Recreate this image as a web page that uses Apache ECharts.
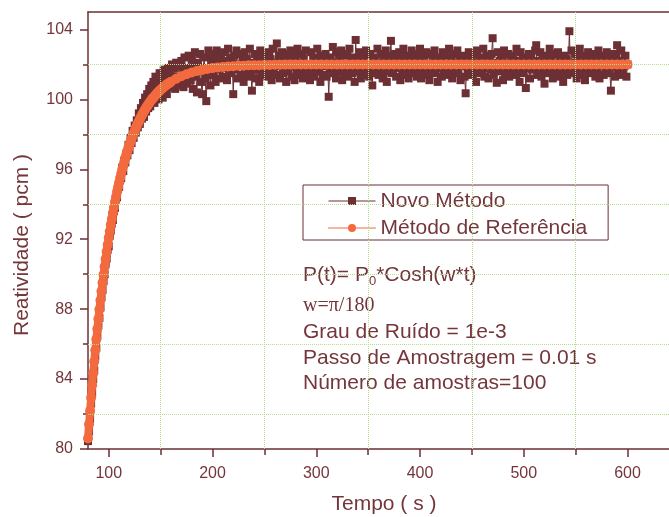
<!DOCTYPE html>
<html>
<head>
<meta charset="utf-8">
<script src="https://cdn.jsdelivr.net/npm/echarts@6/dist/echarts.min.js"></script>
<style>
html,body{margin:0;padding:0;background:#fff;}
#chart{width:669px;height:517px;}
</style>
</head>
<body>
<div id="chart"></div>
<script>
// ---- data ----
// Novo Método: one sample per second from t = 80 s to t = 600 s
const novoStart = 80;
const novoStep = 1;
const novoValues = [
  80.45, 81.0, 81.7, 82.6, 83.2, 84.0, 84.5, 85.3, 85.8, 86.5,
  87.1, 87.5, 88.1, 88.7, 89.1, 89.6, 90.0, 90.6, 90.9, 91.4,
  91.6, 92.2, 92.5, 92.9, 93.1, 93.6, 93.8, 94.3, 94.4, 94.9,
  95.0, 95.4, 95.5, 96.1, 95.9, 96.5, 96.4, 96.9, 96.8, 97.4,
  97.1, 97.8, 97.5, 98.2, 97.8, 98.5, 98.1, 98.8, 98.4, 99.2,
  98.6, 99.5, 98.9, 99.8, 99.0, 100.1, 99.3, 100.3, 99.5, 100.6,
  99.6, 100.8, 99.9, 101.0, 99.8, 101.3, 100.2, 100.9, 100.0, 101.5,
  100.4, 101.2, 100.1, 101.7, 100.6, 101.4, 100.3, 101.8, 100.7, 101.5,
  100.9, 102.0, 101.1, 101.8, 100.6, 102.1, 101.3, 100.8, 101.9, 101.0,
  102.2, 101.5, 100.7, 102.4, 101.2, 101.8, 100.9, 102.5, 101.6, 101.1,
  102.3, 100.6, 101.9, 102.7, 101.3, 100.4, 102.1, 101.7, 102.6, 101.0,
  100.3, 101.8, 102.4, 101.2, 99.9, 101.6, 102.8, 101.4, 100.8, 102.2,
  102.6, 101.4, 102.1, 101.0, 102.8, 101.7, 102.3, 101.2, 102.5, 101.9,
  101.3, 102.7, 101.8, 102.2, 101.1, 102.9, 101.6, 102.4, 101.5, 102.0,
  100.3, 102.5, 101.7, 102.8, 101.2, 102.0, 101.9, 102.6, 101.4, 102.2,
  101.0, 102.7, 101.6, 102.3, 101.8, 101.3, 102.9, 101.5, 100.5, 102.1,
  101.7, 102.6, 101.2, 102.4, 101.9, 101.0, 102.8, 101.5, 102.2, 101.4,
  102.5, 101.8, 102.0, 101.3, 102.7, 101.6, 102.3, 101.1, 102.9, 101.7,
  102.1, 101.4, 103.2, 101.9, 102.5, 101.2, 102.0, 102.7, 101.5, 102.3,
  101.8, 101.0, 102.6, 101.6, 102.2, 102.8, 101.3, 102.4, 101.9, 101.1,
  102.5, 101.7, 102.9, 101.4, 102.1, 101.8, 102.6, 101.2, 102.3, 101.6,
  102.8, 101.5, 102.0, 101.9, 101.1, 102.7, 101.7, 102.4, 101.3, 102.2,
  101.6, 102.9, 101.8, 102.3, 101.0, 102.5, 101.4, 102.1, 101.9, 102.6,
  101.3, 102.2, 100.15, 101.7, 102.4, 101.5, 103.0, 101.8, 102.1, 101.2,
  102.7, 101.6, 102.3, 101.9, 102.8, 101.1, 102.5, 101.4, 102.0, 101.7,
  102.6, 101.3, 102.9, 101.8, 102.2, 101.5, 102.4, 101.0, 103.4, 101.9,
  102.3, 101.6, 102.7, 101.2, 102.1, 101.8, 102.5, 101.4, 102.8, 101.7,
  102.0, 101.3, 102.6, 101.9, 100.8, 102.4, 101.5, 102.2, 101.7, 102.9,
  101.4, 102.1, 101.8, 102.6, 101.2, 102.3, 101.6, 102.8, 101.0, 102.5,
  101.7, 102.2, 103.35, 101.5, 102.0, 101.9, 102.6, 101.3, 102.4, 101.8,
  102.7, 101.1, 102.3, 101.6, 102.9, 101.4, 102.1, 101.8, 102.5, 101.2,
  102.0, 101.7, 102.8, 101.5, 102.2, 101.9, 102.6, 101.3, 102.4, 101.6,
  102.9, 101.2, 102.1, 101.8, 102.5, 101.4, 102.7, 101.7, 102.0, 101.1,
  102.6, 101.9, 102.3, 101.5, 102.8, 101.6, 102.2, 101.0, 102.4, 101.8,
  102.1, 101.3, 102.7, 101.7, 102.5, 101.9, 102.0, 101.4, 102.9, 101.6,
  102.3, 101.2, 102.6, 101.8, 102.1, 101.5, 102.8, 101.7, 102.4, 101.1,
  102.0, 101.9, 102.5, 101.3, 100.35, 102.2, 101.6, 102.7, 101.8, 102.3,
  101.4, 102.6, 101.7, 102.1, 101.0, 102.8, 101.5, 102.4, 101.9, 102.2,
  101.6, 102.9, 101.3, 102.0, 101.8, 102.5, 101.2, 102.3, 101.7, 102.6,
  103.5, 101.4, 102.1, 101.9, 100.95, 102.7, 101.6, 102.2, 101.8, 102.4,
  101.1, 102.8, 101.5, 102.0, 101.9, 102.6, 101.3, 102.3, 101.7, 102.5,
  101.8, 102.1, 101.4, 102.9, 101.6, 102.2, 101.0, 102.7, 101.9, 102.4,
  101.5, 102.3, 100.65, 102.0, 101.8, 102.6, 101.2, 102.5, 101.7, 102.1,
  101.9, 102.8, 103.1, 101.4, 102.2, 101.6, 102.7, 101.3, 102.4, 101.8,
  100.9, 102.5, 101.7, 102.1, 101.5, 102.9, 101.8, 102.3, 101.2, 102.6,
  101.6, 102.0, 101.9, 102.7, 101.3, 102.4, 101.7, 102.2, 101.0, 102.5,
  101.8, 102.3, 101.4, 102.0, 103.9, 101.6, 102.8, 101.9, 102.1, 101.5,
  102.6, 101.2, 102.4, 101.7, 102.9, 101.4, 102.2, 101.8, 102.5, 101.1,
  102.0, 101.9, 102.7, 101.5, 102.3, 101.6, 102.1, 101.8, 102.6, 101.3,
  102.4, 101.7, 102.8, 101.2, 102.0, 101.9, 102.5, 101.4, 102.2, 101.6,
  102.7, 101.8, 102.3, 101.5, 100.5, 102.1, 101.9, 102.6, 101.3, 102.4,
  103.1, 101.7, 102.2, 101.4, 102.8, 101.6, 102.0, 101.9, 102.5, 101.3,
  102.0
];

// Método de Referência: every 1 s from 80 to 160 s, then every 5 s up to 600 s
const refSegments = [[80, 160, 1], [165, 600, 5]];
const refValues = [
  80.60, 81.41, 82.18, 82.93, 83.65, 84.34, 85.01, 85.65, 86.27, 86.86,
  87.43, 87.98, 88.51, 89.02, 89.51, 89.98, 90.43, 90.87, 91.29, 91.69,
  92.08, 92.46, 92.82, 93.16, 93.50, 93.82, 94.13, 94.42, 94.71, 94.99,
  95.25, 95.50, 95.75, 95.99, 96.21, 96.43, 96.64, 96.84, 97.04, 97.23,
  97.41, 97.58, 97.75, 97.91, 98.06, 98.21, 98.35, 98.49, 98.62, 98.75,
  98.87, 98.99, 99.10, 99.21, 99.32, 99.42, 99.52, 99.61, 99.70, 99.79,
  99.87, 99.95, 100.03, 100.10, 100.17, 100.24, 100.31, 100.37, 100.43, 100.49,
  100.55, 100.60, 100.66, 100.71, 100.76, 100.80, 100.85, 100.89, 100.93, 100.97,
  101.01,
  101.18, 101.33, 101.44, 101.54, 101.62, 101.69, 101.74, 101.79, 101.83, 101.86,
  101.88, 101.90, 101.92, 101.93, 101.95, 101.96, 101.96, 101.97, 101.97, 101.98,
  101.98, 101.99, 101.99,
  102.0, 102.0, 102.0, 102.0, 102.0, 102.0, 102.0, 102.0, 102.0, 102.0,
  102.0, 102.0, 102.0, 102.0, 102.0, 102.0, 102.0, 102.0, 102.0, 102.0,
  102.0, 102.0, 102.0, 102.0, 102.0, 102.0, 102.0, 102.0, 102.0, 102.0,
  102.0, 102.0, 102.0, 102.0, 102.0, 102.0, 102.0, 102.0, 102.0, 102.0,
  102.0, 102.0, 102.0, 102.0, 102.0, 102.0, 102.0, 102.0, 102.0, 102.0,
  102.0, 102.0, 102.0, 102.0, 102.0, 102.0, 102.0, 102.0, 102.0, 102.0,
  102.0, 102.0, 102.0, 102.0, 102.0
];

const xMajorTicks = [100, 200, 300, 400, 500, 600];
const xMinorTicks = [150, 250, 350, 450, 550];
const yMajorTicks = [80, 84, 88, 92, 96, 100, 104];
const yMinorTicks = [82, 86, 90, 94, 98, 102];

const seriesNames = ['Novo Método', 'Método de Referência'];
const xTitle = 'Tempo ( s )';
const yTitle = 'Reatividade ( pcm )';
const notes = ['w=π/180', 'Grau de Ruído = 1e-3', 'Passo de Amostragem = 0.01 s', 'Número de amostras=100'];

// ---- build series data ----
const novoData = novoValues.map((v, i) => [novoStart + i * novoStep, v]);
const refTimes = [];
refSegments.forEach(([a, b, s]) => { for (let t = a; t <= b; t += s) refTimes.push(t); });
const refData = refValues.map((v, i) => [refTimes[i], v]);

const maroon = '#6b2f34';
const textCol = '#74363b';
const orange = '#f26a3e';
const gridGreen = '#b6dc8c';
const font = '"Liberation Sans", Arial, sans-serif';

const chart = echarts.init(document.getElementById('chart'), null, {renderer: 'canvas'});

const commonX = {type: 'value', min: 80, max: 640, gridIndex: 0, splitLine: {show: false}};
const commonY = {type: 'value', min: 80, max: 105, gridIndex: 0, splitLine: {show: false}};

chart.setOption({
  animation: false,
  backgroundColor: '#ffffff',
  grid: {left: 88, top: 12, right: 0, bottom: 68, containLabel: false},
  xAxis: [
    Object.assign({}, commonX, {
      position: 'bottom',
      axisLine: {show: true, lineStyle: {color: maroon, width: 1.5}},
      axisTick: {show: true, customValues: xMajorTicks, length: 8, lineStyle: {color: maroon, width: 1.5}},
      axisLabel: {show: true, customValues: xMajorTicks, margin: 17, color: textCol, fontSize: 16, fontFamily: font}
    }),
    Object.assign({}, commonX, {
      position: 'bottom',
      axisLine: {show: false},
      axisTick: {show: true, customValues: xMinorTicks, length: 6, lineStyle: {color: maroon, width: 1.5}},
      axisLabel: {show: false}
    }),
    Object.assign({}, commonX, {
      position: 'top',
      axisLine: {show: true, lineStyle: {color: maroon, width: 1.5}},
      axisTick: {show: false},
      axisLabel: {show: false}
    })
  ],
  yAxis: [
    Object.assign({}, commonY, {
      position: 'left',
      axisLine: {show: true, lineStyle: {color: maroon, width: 1.5}},
      axisTick: {show: true, customValues: yMajorTicks, length: 8, lineStyle: {color: maroon, width: 1.5}},
      axisLabel: {show: true, customValues: yMajorTicks, margin: 15, color: textCol, fontSize: 16, fontFamily: font}
    }),
    Object.assign({}, commonY, {
      position: 'left',
      axisLine: {show: false},
      axisTick: {show: true, customValues: yMinorTicks, length: 5, lineStyle: {color: maroon, width: 1.5}},
      axisLabel: {show: false}
    })
  ],
  legend: {
    data: seriesNames,
    orient: 'vertical',
    left: 303,
    top: 185,
    padding: [5, 21, 1, 25],
    itemGap: 5,
    itemWidth: 47,
    itemHeight: 10,
    backgroundColor: '#ffffff',
    borderColor: maroon,
    borderWidth: 1,
    borderRadius: 0,
    lineStyle: {width: 1},
    textStyle: {color: textCol, fontSize: 21, fontFamily: font, lineHeight: 22}
  },
  series: [
    {
      type: 'line',
      name: 'grid',
      z: 0,
      data: [],
      silent: true,
      markLine: {
        silent: true,
        symbol: ['none', 'none'],
        label: {show: false},
        lineStyle: {type: 'dotted', color: gridGreen, width: 1},
        data: xMinorTicks.map(v => ({xAxis: v})).concat(yMinorTicks.map(v => ({yAxis: v})))
      }
    },
    {
      type: 'line',
      name: seriesNames[0],
      data: novoData,
      z: 2,
      symbol: 'rect',
      symbolSize: 8,
      showAllSymbol: true,
      itemStyle: {color: maroon},
      lineStyle: {color: maroon, width: 1}
    },
    {
      type: 'line',
      name: seriesNames[1],
      data: refData,
      z: 3,
      symbol: 'circle',
      symbolSize: 10,
      showAllSymbol: true,
      itemStyle: {color: orange},
      lineStyle: {color: orange, width: 8, cap: 'round', join: 'round'}
    }
  ],
  graphic: [
    {type: 'text', x: 384, y: 504, style: {text: xTitle, font: '21px ' + font, fill: textCol, align: 'center', verticalAlign: 'middle'}},
    {type: 'text', x: 22, y: 245, rotation: Math.PI / 2, style: {text: yTitle, font: '21px ' + font, fill: textCol, align: 'center', verticalAlign: 'middle'}},
    {type: 'text', x: 303, y: 262, style: {
      text: '{m|P(t)= P}{s|0}{m|*Cosh(w*t)}',
      fill: textCol, align: 'left', verticalAlign: 'top',
      rich: {
        m: {fontSize: 21, fontFamily: font, lineHeight: 26, fill: textCol, color: textCol},
        s: {fontSize: 13, fontFamily: font, lineHeight: 12, verticalAlign: 'bottom', fill: textCol, color: textCol}
      }
    }},
    {type: 'text', x: 303, y: 306, style: {text: notes[0], font: '20px "Liberation Serif", "Times New Roman", serif', fill: textCol, align: 'left', verticalAlign: 'middle'}},
    {type: 'text', x: 303, y: 332, style: {text: notes[1], font: '21px ' + font, fill: textCol, align: 'left', verticalAlign: 'middle'}},
    {type: 'text', x: 303, y: 358, style: {text: notes[2], font: '21px ' + font, fill: textCol, align: 'left', verticalAlign: 'middle'}},
    {type: 'text', x: 303, y: 383, style: {text: notes[3], font: '21px ' + font, fill: textCol, align: 'left', verticalAlign: 'middle'}}
  ]
});
</script>
</body>
</html>
